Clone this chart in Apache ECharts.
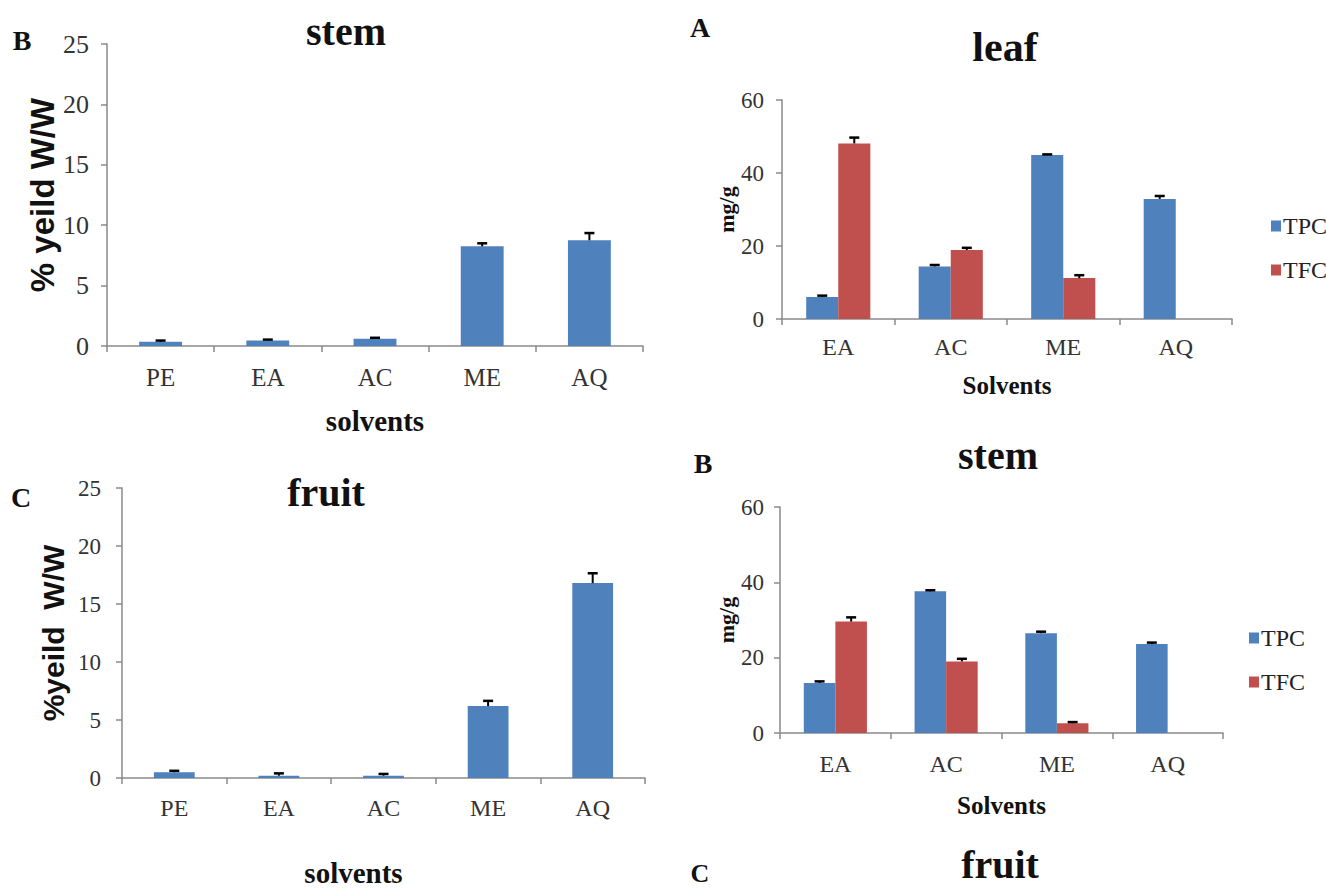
<!DOCTYPE html>
<html><head><meta charset="utf-8">
<script src="https://cdn.jsdelivr.net/npm/echarts@6/dist/echarts.min.js"></script>
<style>html,body{margin:0;padding:0;background:#fff}#c{width:1326px;height:888px}</style>
</head><body><div id="c"></div>
<script>
// ---- data ----
const yieldCats = ['PE', 'EA', 'AC', 'ME', 'AQ'];
const stemYield = [0.35, 0.45, 0.6, 8.25, 8.75];
const stemYieldErr = [0.1, 0.08, 0.08, 0.25, 0.6];
const fruitYield = [0.5, 0.2, 0.2, 6.2, 16.8];
const fruitYieldErr = [0.12, 0.2, 0.15, 0.45, 0.85];
const yieldTicks = [0, 5, 10, 15, 20, 25];

const phenCats = ['EA', 'AC', 'ME', 'AQ'];
const leafTPC = [6.0, 14.4, 44.9, 32.9];
const leafTPCErr = [0.4, 0.4, 0.2, 0.8];
const leafTFC = [48.1, 18.9, 11.2, null];
const leafTFCErr = [1.6, 0.6, 0.8, null];
const stemTPC = [13.3, 37.6, 26.5, 23.6];
const stemTPCErr = [0.4, 0.3, 0.4, 0.4];
const stemTFC = [29.6, 19.0, 2.6, null];
const stemTFCErr = [1.1, 0.7, 0.3, null];
const phenTicks = [0, 20, 40, 60];

const SERIF = '"Liberation Serif", "Times New Roman", serif';
const SANS = '"Liberation Sans", Arial, sans-serif';
const BLUE = '#4F81BD', RED = '#C0504D', AXIS = '#8a8a8a';

const chart = echarts.init(document.getElementById('c'), null, {renderer: 'svg'});

function errData(vals, errs) {
  return vals.map((v, i) => [i, v, errs[i]]);
}
function errRender(sign, gapRatio, n) {
  return function (params, api) {
    const v = api.value(1), e = api.value(2);
    if (v == null || isNaN(v) || !e || isNaN(e)) return;
    const i = api.value(0);
    const bw = api.size([1, 0])[0];
    let x = api.coord([i, v])[0];
    if (n === 2) { const w = bw * (1 - gapRatio) / 2; x += sign * w / 2; }
    const y0 = api.coord([i, v])[1], y1 = api.coord([i, v + e])[1];
    return {type: 'group', children: [
      {type: 'line', shape: {x1: x, y1: y0, x2: x, y2: y1}, style: {stroke: '#000', lineWidth: 2}},
      {type: 'line', shape: {x1: x - 5, y1: y1, x2: x + 5, y2: y1}, style: {stroke: '#000', lineWidth: 2.5}}
    ]};
  };
}
function xAx(gi, cats, name, gap, margin, fs, nfs, pad) {
  return {type: 'category', gridIndex: gi, data: cats,
    axisLine: {show: true, lineStyle: {color: AXIS, width: 1.5}},
    axisTick: {show: true, length: 6, lineStyle: {color: AXIS, width: 1.5}},
    axisLabel: {color: '#333', fontFamily: SERIF, fontSize: fs, margin: margin},
    name: name, nameLocation: 'middle', nameGap: gap,
    nameTextStyle: {fontFamily: SERIF, fontWeight: 'bold', fontSize: nfs, color: '#111', padding: pad || 0}};
}
function yAx(gi, ticks, name, gap, margin, fs, nfs, nfam) {
  return {type: 'value', gridIndex: gi, min: ticks[0], max: ticks[ticks.length - 1],
    interval: ticks[1] - ticks[0],
    axisLine: {show: true, lineStyle: {color: AXIS, width: 1.5}},
    axisTick: {show: true, length: 6, lineStyle: {color: AXIS, width: 1.5}},
    splitLine: {show: false},
    axisLabel: {color: '#333', fontFamily: SERIF, fontSize: fs, margin: margin},
    name: name, nameLocation: 'middle', nameGap: gap, nameRotate: 90,
    nameTextStyle: {fontFamily: nfam, fontWeight: 'bold', fontSize: nfs, color: '#111'}};
}
function txt(x, y, s, fs) {
  return {type: 'text', x: x, y: y, style: {text: s, fontFamily: SERIF, fontWeight: 'bold', fontSize: fs,
    fill: '#111', textAlign: 'center', textVerticalAlign: 'middle'}};
}

const option = {
  backgroundColor: '#fff',
  animation: false,
  grid: [
    {left: 107, top: 44, width: 536, height: 302},
    {left: 782, top: 100, width: 450, height: 219},
    {left: 122, top: 488, width: 523, height: 290},
    {left: 780, top: 507, width: 443, height: 226}
  ],
  xAxis: [
    xAx(0, yieldCats, 'solvents', 60, 19, 25, 29),
    xAx(1, phenCats, 'Solvents', 54, 16, 24, 25),
    xAx(2, yieldCats, 'solvents', 80, 18, 24, 29, [0, 60, 0, 0]),
    xAx(3, phenCats, 'Solvents', 60, 19, 24, 25)
  ],
  yAxis: [
    yAx(0, yieldTicks, '% yeild W/W', 48, 18, 26, 33, SANS),
    yAx(1, phenTicks, 'mg/g', 43, 18, 23, 22, SERIF),
    yAx(2, yieldTicks, '%yeild  W/W', 54, 21, 23, 30, SANS),
    yAx(3, phenTicks, 'mg/g', 43, 16, 23, 22, SERIF)
  ],
  legend: [
    {orient: 'vertical', left: 1266, top: 209, itemWidth: 10, itemHeight: 11, itemGap: 20, icon: 'rect',
      data: ['TPC', 'TFC'], textStyle: {fontFamily: SERIF, fontSize: 24, color: '#222', padding: [0, 0, 0, -3]}},
    {orient: 'vertical', left: 1244, top: 621, itemWidth: 10, itemHeight: 11, itemGap: 20, icon: 'rect',
      data: ['TPC', 'TFC'], textStyle: {fontFamily: SERIF, fontSize: 24, color: '#222', padding: [0, 0, 0, -3]}}
  ],
  graphic: [
    txt(22, 40, 'B', 28), txt(346, 31, 'stem', 40),
    txt(700, 27, 'A', 28), txt(1005, 47, 'leaf', 42),
    txt(21, 497, 'C', 28), txt(326, 492, 'fruit', 40),
    txt(703, 463, 'B', 28), txt(998, 455, 'stem', 40),
    txt(700, 873, 'C', 26), txt(1000, 864, 'fruit', 40)
  ],
  series: [
    {type: 'bar', name: 'stemYield', xAxisIndex: 0, yAxisIndex: 0, data: stemYield,
      barCategoryGap: '60%', itemStyle: {color: BLUE}},
    {type: 'custom', xAxisIndex: 0, yAxisIndex: 0, data: errData(stemYield, stemYieldErr),
      renderItem: errRender(0, 0.6, 1), encode: {x: 0, y: 1}, z: 5},

    {type: 'bar', name: 'TPC', xAxisIndex: 1, yAxisIndex: 1, data: leafTPC,
      barGap: '0%', barCategoryGap: '43%', itemStyle: {color: BLUE}},
    {type: 'bar', name: 'TFC', xAxisIndex: 1, yAxisIndex: 1, data: leafTFC,
      barGap: '0%', barCategoryGap: '43%', itemStyle: {color: RED}},
    {type: 'custom', xAxisIndex: 1, yAxisIndex: 1, data: errData(leafTPC, leafTPCErr),
      renderItem: errRender(-1, 0.43, 2), encode: {x: 0, y: 1}, z: 5},
    {type: 'custom', xAxisIndex: 1, yAxisIndex: 1, data: errData(leafTFC, leafTFCErr),
      renderItem: errRender(1, 0.43, 2), encode: {x: 0, y: 1}, z: 5},

    {type: 'bar', name: 'fruitYield', xAxisIndex: 2, yAxisIndex: 2, data: fruitYield,
      barCategoryGap: '61%', itemStyle: {color: BLUE}},
    {type: 'custom', xAxisIndex: 2, yAxisIndex: 2, data: errData(fruitYield, fruitYieldErr),
      renderItem: errRender(0, 0.61, 1), encode: {x: 0, y: 1}, z: 5},

    {type: 'bar', name: 'TPC', xAxisIndex: 3, yAxisIndex: 3, data: stemTPC,
      barGap: '0%', barCategoryGap: '43%', itemStyle: {color: BLUE}},
    {type: 'bar', name: 'TFC', xAxisIndex: 3, yAxisIndex: 3, data: stemTFC,
      barGap: '0%', barCategoryGap: '43%', itemStyle: {color: RED}},
    {type: 'custom', xAxisIndex: 3, yAxisIndex: 3, data: errData(stemTPC, stemTPCErr),
      renderItem: errRender(-1, 0.43, 2), encode: {x: 0, y: 1}, z: 5},
    {type: 'custom', xAxisIndex: 3, yAxisIndex: 3, data: errData(stemTFC, stemTFCErr),
      renderItem: errRender(1, 0.43, 2), encode: {x: 0, y: 1}, z: 5}
  ]
};
chart.setOption(option);
</script>
</body></html>
